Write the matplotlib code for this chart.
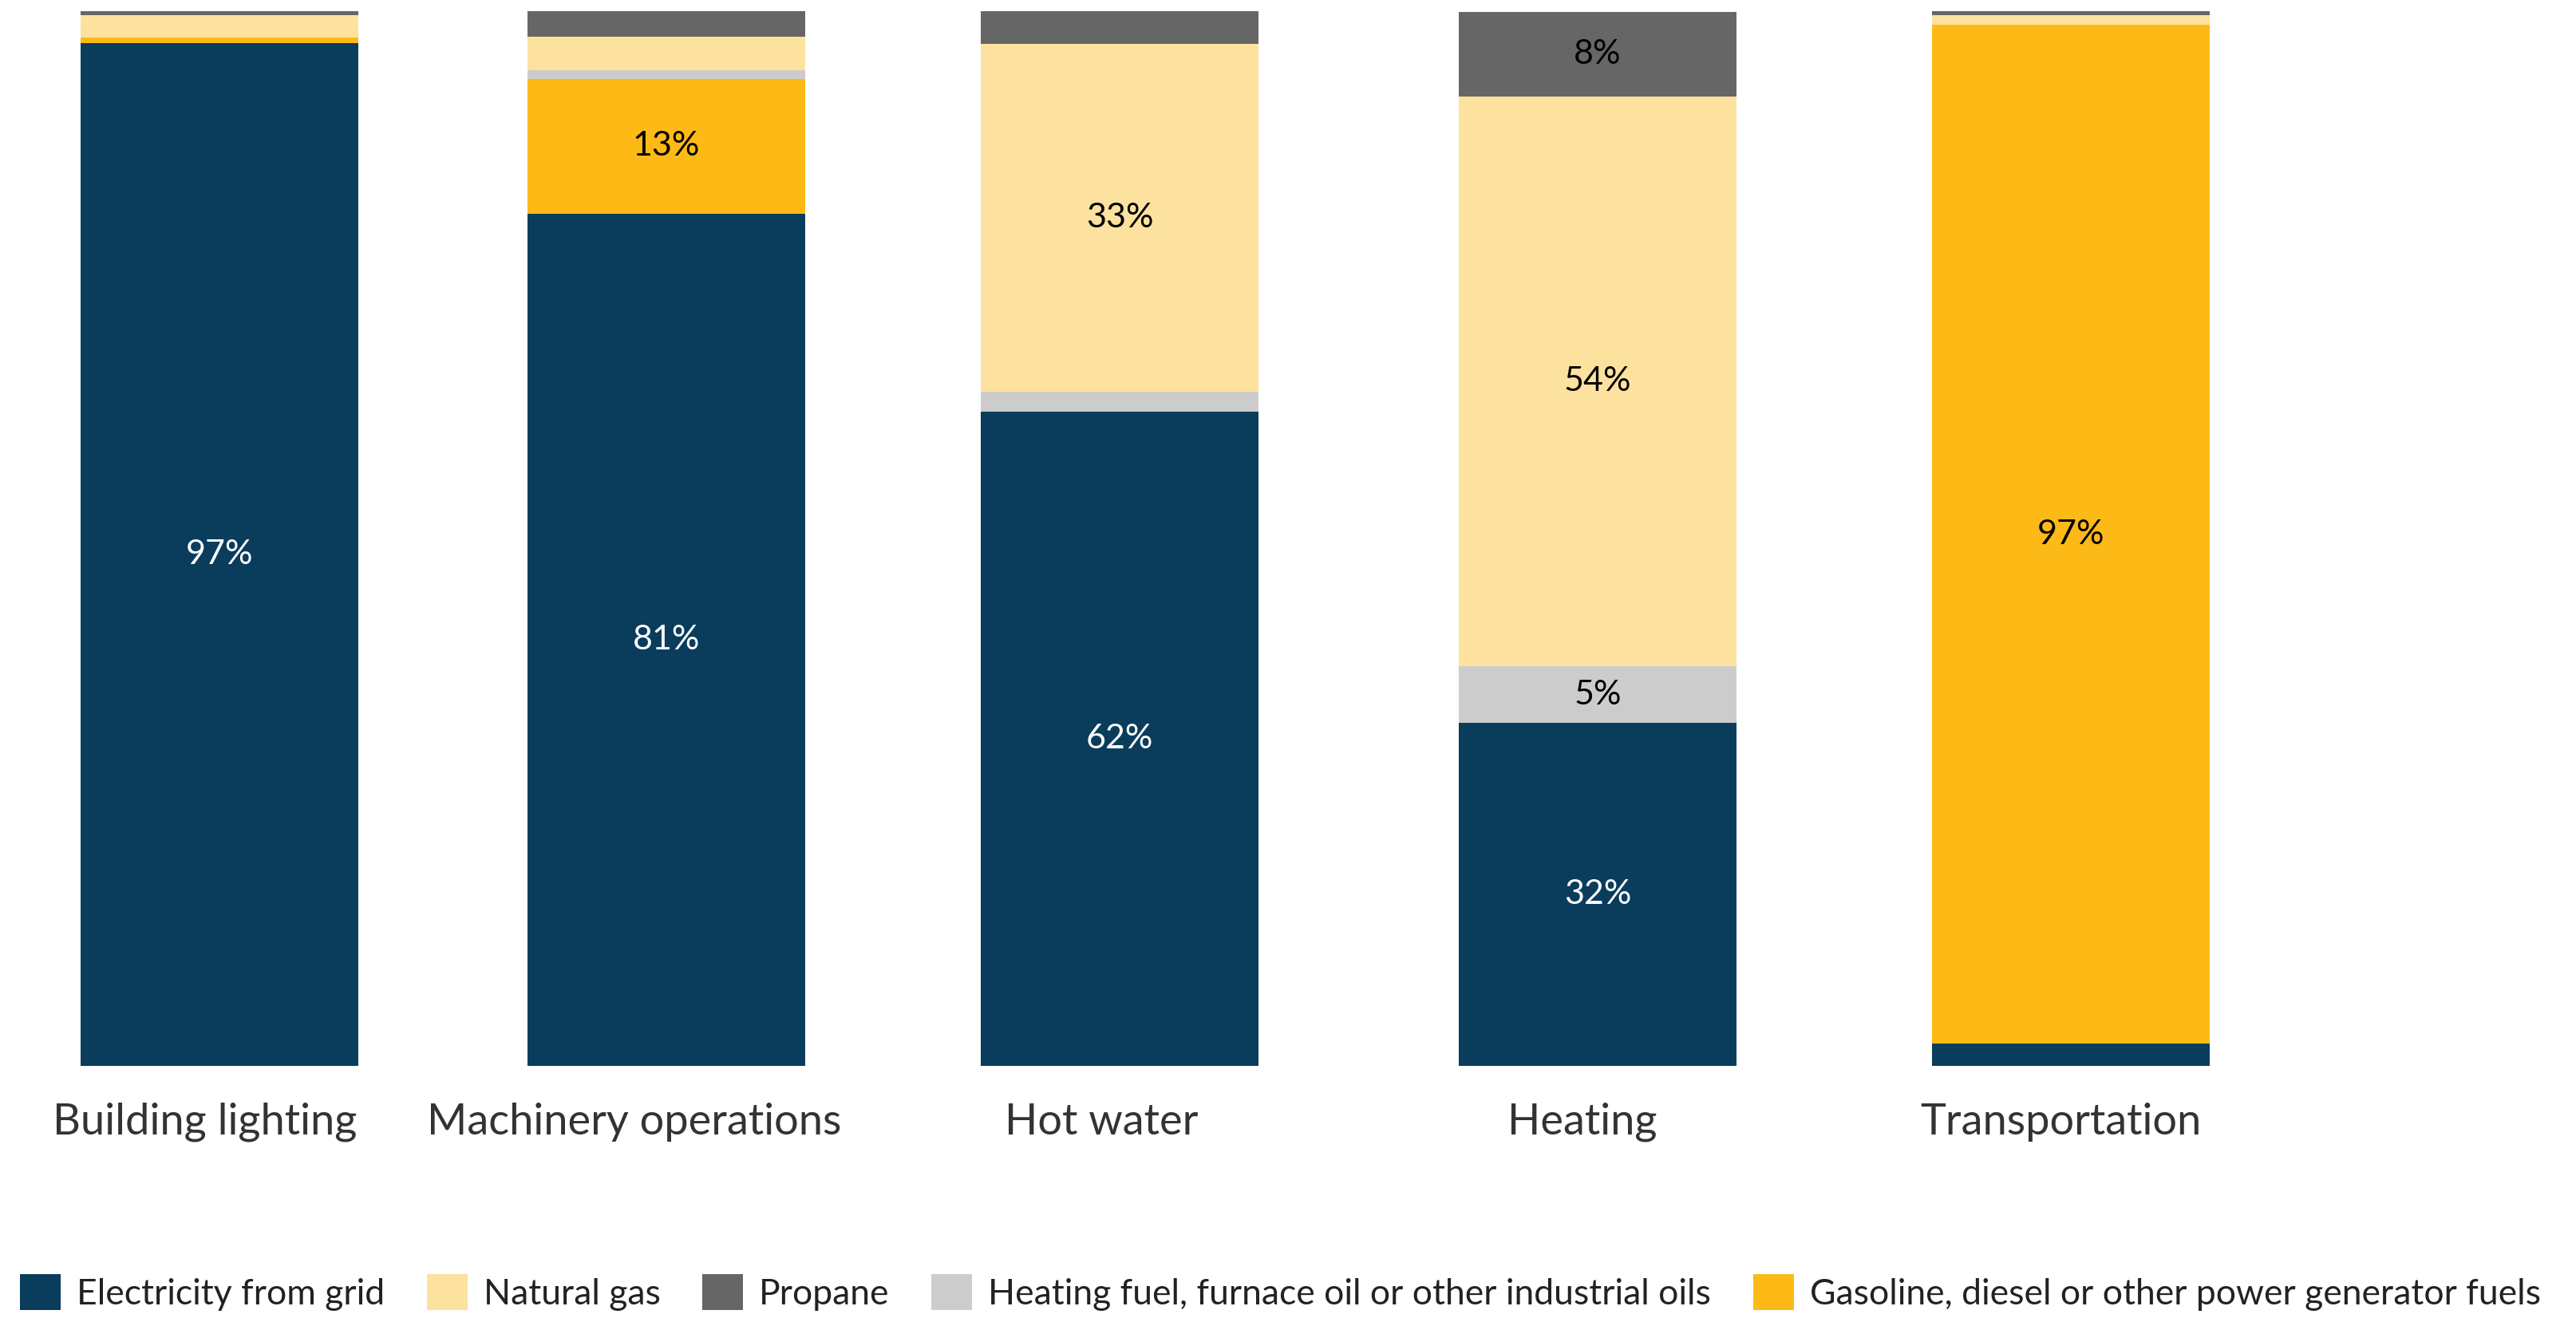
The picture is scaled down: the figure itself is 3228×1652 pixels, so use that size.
import numpy as np
import matplotlib
matplotlib.use("Agg")
import matplotlib.pyplot as plt
from matplotlib.patches import Patch

plt.rcParams['font.family'] = ['Lato', 'DejaVu Sans']

categories = ["Building lighting", "Machinery operations", "Hot water",
              "Heating", "Transportation"]

# shares in percent, bottom to top of each bar
electricity = [97.0, 80.8, 62.0, 32.5, 2.1]
gasoline = [0.5, 12.8, 0.0, 0.0, 96.6]
heating_fuel = [0.0, 0.8, 1.9, 5.4, 0.0]
natural_gas = [2.1, 3.2, 33.0, 54.0, 0.9]
propane = [0.4, 2.4, 3.1, 8.0, 0.4]

# stacking order and legend order
stack = [
    ("Electricity from grid", electricity, "#0a3d5c", "white"),
    ("Gasoline, diesel or other power generator fuels", gasoline, "#fdba16", "black"),
    ("Heating fuel, furnace oil or other industrial oils", heating_fuel, "#cccccc", "black"),
    ("Natural gas", natural_gas, "#fde29f", "black"),
    ("Propane", propane, "#666666", "black"),
]
legend_order = [0, 3, 4, 2, 1]

# layout (figure pixels)
W, H = 3228, 1652
bar_x = [275, 835, 1403, 2002, 2595]
label_x = [257, 795, 1380, 1983, 2582]
bar_w = 348

fig = plt.figure(figsize=(W / 100, H / 100), dpi=100)
ax = fig.add_axes([0, 1 - 1336 / H, 1, (1336 - 14) / H])

bottom = np.zeros(len(categories))
for name, vals, color, txt in stack:
    vals = np.array(vals)
    ax.bar(bar_x, vals, width=bar_w, bottom=bottom, color=color,
           edgecolor="none", label=name)
    for x, b, v in zip(bar_x, bottom, vals):
        if round(v) >= 5:
            ax.text(x, b + v / 2, "{:.0f}%".format(v), ha="center",
                    va="center", fontsize=31, color=txt)
    bottom += vals

ax.set_xlim(0, W)
ax.set_ylim(0, 100)
ax.set_yticks([])
ax.set_xticks(label_x)
ax.set_xticklabels(categories, fontsize=39, color="#333333")
ax.tick_params(axis="x", length=0, pad=33)
for s in ax.spines.values():
    s.set_visible(False)

handles = [Patch(facecolor=stack[i][2], edgecolor="none") for i in legend_order]
labels = [stack[i][0] for i in legend_order]
fig.legend(handles, labels, loc="center left", bbox_to_anchor=(25 / W, 1 - 1620 / H),
           ncol=5, frameon=False, fontsize=32, handlelength=1.15, handleheight=1.15,
           handletextpad=0.45, columnspacing=1.18, borderaxespad=0, borderpad=0,
           labelcolor="#222222")

fig.savefig("out.png", dpi=100)
